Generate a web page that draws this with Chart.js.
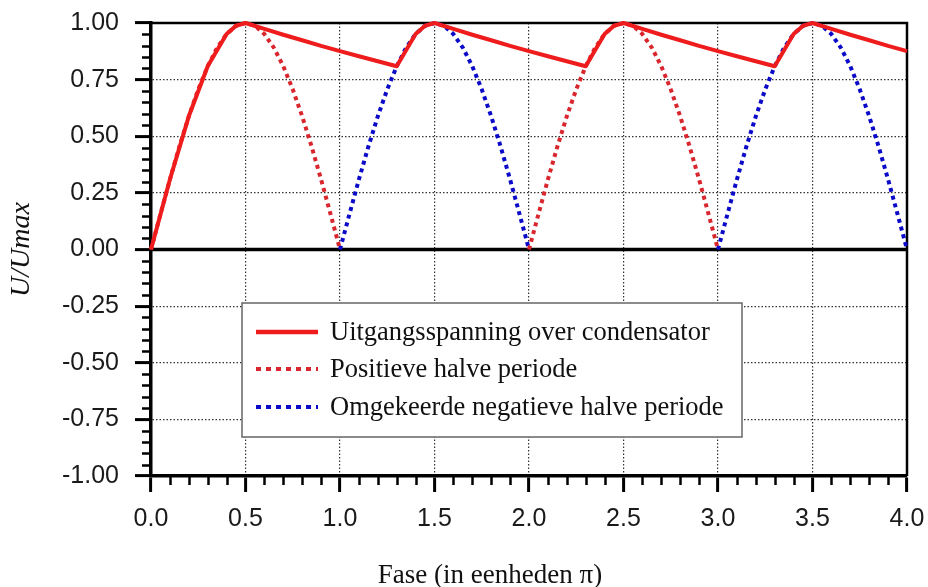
<!DOCTYPE html>
<html><head><meta charset="utf-8">
<script src="https://cdn.jsdelivr.net/npm/chart.js@4.4.1/dist/chart.umd.min.js"></script>
<style>html,body{margin:0;padding:0;background:#fff;}#wrap{width:928px;height:587px;}</style>
</head><body><div id="wrap"><canvas id="c" width="928" height="587"></canvas></div>
<script>
const seriesLabels = ['Uitgangsspanning over condensator', 'Positieve halve periode', 'Omgekeerde negatieve halve periode'];
const xAxisTitle = 'Fase (in eenheden π)';
const yAxisTitle = 'U/Umax';
const xTickLabels = ['0.0','0.5','1.0','1.5','2.0','2.5','3.0','3.5','4.0'];
const yTickLabels = ['-1.00','-0.75','-0.50','-0.25','0.00','0.25','0.50','0.75','1.00'];

// Output voltage over capacitor
const outX = [0,0.1,0.2,0.3,0.4,0.45,0.5,
  0.6,0.7,0.8,0.9,1.0,1.1,1.2,1.3,1.4,1.45,1.5,
  1.6,1.7,1.8,1.9,2.0,2.1,2.2,2.3,2.4,2.45,2.5,
  2.6,2.7,2.8,2.9,3.0,3.1,3.2,3.3,3.4,3.45,3.5,
  3.6,3.7,3.8,3.9,4.0];
const outY = [0,0.309,0.588,0.809,0.951,0.988,1.0,
  0.974,0.948,0.924,0.899,0.876,0.853,0.831,0.809,0.951,0.988,1.0,
  0.974,0.948,0.924,0.899,0.876,0.853,0.831,0.809,0.951,0.988,1.0,
  0.974,0.948,0.924,0.899,0.876,0.853,0.831,0.809,0.951,0.988,1.0,
  0.974,0.948,0.924,0.899,0.876];

// Positive half periods
const posX = [0,0.05,0.1,0.15,0.2,0.25,0.3,0.35,0.4,0.45,0.5,0.55,0.6,0.65,0.7,0.75,0.8,0.85,0.9,0.95,1.0,
  1.5,
  2.0,2.05,2.1,2.15,2.2,2.25,2.3,2.35,2.4,2.45,2.5,2.55,2.6,2.65,2.7,2.75,2.8,2.85,2.9,2.95,3.0];
const posY = [0,0.156,0.309,0.454,0.588,0.707,0.809,0.891,0.951,0.988,1.0,0.988,0.951,0.891,0.809,0.707,0.588,0.454,0.309,0.156,0,
  null,
  0,0.156,0.309,0.454,0.588,0.707,0.809,0.891,0.951,0.988,1.0,0.988,0.951,0.891,0.809,0.707,0.588,0.454,0.309,0.156,0];

// Inverted negative half periods
const negX = [1.0,1.05,1.1,1.15,1.2,1.25,1.3,1.35,1.4,1.45,1.5,1.55,1.6,1.65,1.7,1.75,1.8,1.85,1.9,1.95,2.0,
  2.5,
  3.0,3.05,3.1,3.15,3.2,3.25,3.3,3.35,3.4,3.45,3.5,3.55,3.6,3.65,3.7,3.75,3.8,3.85,3.9,3.95,4.0];
const negY = [0,0.156,0.309,0.454,0.588,0.707,0.809,0.891,0.951,0.988,1.0,0.988,0.951,0.891,0.809,0.707,0.588,0.454,0.309,0.156,0,
  null,
  0,0.156,0.309,0.454,0.588,0.707,0.809,0.891,0.951,0.988,1.0,0.988,0.951,0.891,0.809,0.707,0.588,0.454,0.309,0.156,0];

const toPts = (xs, ys) => xs.map((x, i) => ({x: x, y: ys[i]}));

const SOLID_RED = '#ee1c1c';
const DOT_RED = '#d9262e';
const DOT_BLUE = '#0a0ac8';
const SANS = "'Liberation Sans', Arial, sans-serif";
const SERIF = "'Liberation Serif', 'Times New Roman', serif";

const zeroPad = s => { s.paddingTop = 0; s.paddingBottom = 0; s.paddingLeft = 0; s.paddingRight = 0; };

const framePlugin = {
  id: 'frame',
  beforeDatasetsDraw(chart) {
    const {ctx, chartArea: a, scales: {x, y}} = chart;
    ctx.save();
    // minor ticks
    ctx.strokeStyle = '#000';
    ctx.lineWidth = 2.5;
    ctx.beginPath();
    for (let k = -20; k <= 20; k++) {
      if (k % 5 === 0) continue;
      const py = Math.round(y.getPixelForValue(k * 0.05)) + 0.5;
      ctx.moveTo(a.left - 9, py); ctx.lineTo(a.left, py);
    }
    for (let k = 0; k <= 40; k++) {
      if (k % 5 === 0) continue;
      const px = Math.round(x.getPixelForValue(k * 0.1)) + 0.5;
      ctx.moveTo(px, a.bottom); ctx.lineTo(px, a.bottom + 9);
    }
    ctx.stroke();
    // top and right frame
    ctx.lineWidth = 2.5;
    ctx.beginPath();
    ctx.moveTo(a.left, a.top); ctx.lineTo(a.right, a.top); ctx.lineTo(a.right, a.bottom);
    ctx.stroke();
    // zero line
    const y0 = y.getPixelForValue(0);
    ctx.lineWidth = 3.5;
    ctx.beginPath();
    ctx.moveTo(a.left, y0); ctx.lineTo(a.right, y0);
    ctx.stroke();
    ctx.restore();
  },
  afterDraw(chart) {
    const {ctx, chartArea: a} = chart;
    ctx.save();
    // legend
    const bx = a.left + 91, by = a.top + 280, bw = 500, bh = 134;
    ctx.fillStyle = '#fff';
    ctx.fillRect(bx, by, bw, bh);
    ctx.strokeStyle = '#666';
    ctx.lineWidth = 1.5;
    ctx.strokeRect(bx, by, bw, bh);
    const rows = [29, 66, 104];
    chart.data.datasets.forEach((ds, i) => {
      const ry = by + rows[i];
      ctx.beginPath();
      ctx.strokeStyle = ds.borderColor;
      ctx.lineWidth = i === 0 ? 4.5 : 4;
      ctx.setLineDash(i === 0 ? [] : [5, 5]);
      ctx.moveTo(bx + 14, ry); ctx.lineTo(bx + 76, ry);
      ctx.stroke();
      ctx.setLineDash([]);
      ctx.fillStyle = '#111';
      ctx.font = '26.5px ' + SERIF;
      ctx.textBaseline = 'middle';
      ctx.textAlign = 'left';
      ctx.fillText(ds.label, bx + 88, ry + 1);
    });
    // x axis title
    ctx.fillStyle = '#111';
    ctx.font = '27px ' + SERIF;
    ctx.textAlign = 'center';
    ctx.textBaseline = 'alphabetic';
    ctx.fillText(xAxisTitle, 490, 583);
    ctx.restore();
  }
};

new Chart(document.getElementById('c'), {
  type: 'line',
  data: {
    datasets: [
      {label: seriesLabels[0], data: toPts(outX, outY), borderColor: SOLID_RED, borderWidth: 4, pointRadius: 0, tension: 0, clip: 6, borderJoinStyle: 'round'},
      {label: seriesLabels[1], data: toPts(posX, posY), borderColor: DOT_RED, borderWidth: 4, borderDash: [4, 4], pointRadius: 0, tension: 0, spanGaps: false, clip: 6},
      {label: seriesLabels[2], data: toPts(negX, negY), borderColor: DOT_BLUE, borderWidth: 4, borderDash: [4, 4], pointRadius: 0, tension: 0, spanGaps: false, clip: 6}
    ]
  },
  options: {
    responsive: false,
    animation: false,
    devicePixelRatio: 1,
    layout: {autoPadding: false, padding: {top: 23, right: 21, left: 0, bottom: 0}},
    plugins: {legend: {display: false}, tooltip: {enabled: false}},
    scales: {
      x: {
        type: 'linear', min: 0, max: 4,
        afterFit: s => { s.height = 111; zeroPad(s); },
        ticks: {stepSize: 0.5, padding: 12, color: '#1a1a1a', font: {family: SANS, size: 25},
          maxRotation: 0, autoSkip: false,
          callback: (v, i) => xTickLabels[i]},
        grid: {color: 'rgba(0,0,0,0.8)', lineWidth: 1.2, tickLength: 16, tickColor: '#000', tickWidth: 3},
        border: {display: true, color: '#000', width: 3.5, dash: [1.5, 2]}
      },
      y: {
        type: 'linear', min: -1, max: 1,
        afterFit: s => { s.width = 151; zeroPad(s); },
        ticks: {stepSize: 0.25, padding: 16, color: '#1a1a1a', font: {family: SANS, size: 25},
          callback: (v, i) => yTickLabels[i]},
        grid: {color: 'rgba(0,0,0,0.8)', lineWidth: 1.2, tickLength: 16, tickColor: '#000', tickWidth: 3},
        border: {display: true, color: '#000', width: 3.5, dash: [1.5, 2]},
        title: {display: true, text: yAxisTitle, color: '#111',
          font: {family: SERIF, size: 28, style: 'italic'}, padding: {top: 5, bottom: 0}}
      }
    }
  },
  plugins: [framePlugin]
});
</script>
</body></html>
